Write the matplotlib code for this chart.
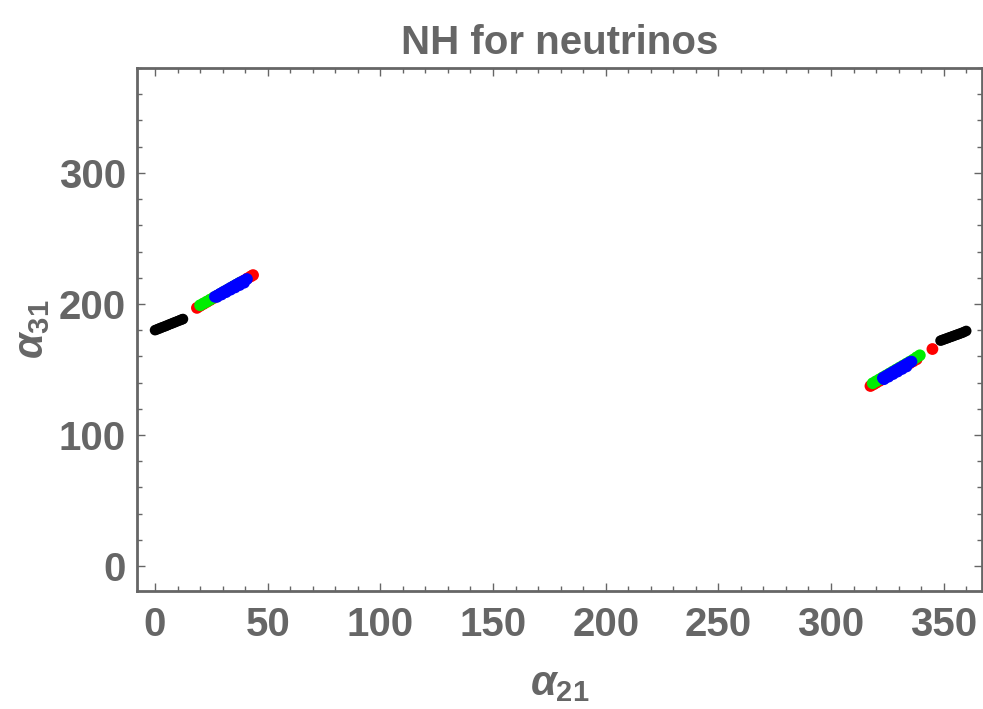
import matplotlib
matplotlib.use("Agg")
import matplotlib.pyplot as plt
from matplotlib.ticker import MultipleLocator

plt.rcParams['font.family'] = ['Liberation Sans', 'DejaVu Sans']
plt.rcParams['mathtext.fontset'] = 'custom'
plt.rcParams['mathtext.it'] = 'Liberation Sans:italic:bold'
plt.rcParams['mathtext.rm'] = 'Liberation Sans:bold'

# Data (alpha21, alpha31) in degrees
black_x = [0.0, 0.8, 1.6, 2.4, 3.2, 4.0, 4.8, 5.6, 6.4, 7.2, 8.0, 8.8, 9.6, 10.4, 11.2, 12.0, 12.4,
           348.6, 349.4, 350.2, 351.0, 351.8, 352.6, 353.4, 354.2, 355.0, 355.8, 356.6, 357.4, 358.2, 359.0, 360.0]
black_y = [180.0, 180.5, 181.1, 181.6, 182.2, 182.7, 183.2, 183.8, 184.4, 184.9, 185.5, 186.0, 186.6, 187.1, 187.7, 188.2, 188.5,
           172.0, 172.5, 173.0, 173.5, 174.0, 174.5, 175.0, 175.5, 176.0, 176.5, 177.0, 177.5, 178.0, 178.6, 179.4]

red_x = [18.6, 20.0, 21.5, 23.0, 24.5, 26.0, 27.5, 29.0, 30.5, 32.0, 33.5, 35.0, 36.5, 38.0, 39.5, 41.0, 42.5, 43.5,
         317.5, 318.8, 320.0, 321.5, 323.0, 324.5, 326.0, 327.5, 329.0, 330.5, 332.0, 333.5, 335.0, 336.5, 338.0, 345.0]
red_y = [197.0, 198.5, 200.0, 201.5, 203.0, 204.5, 205.9, 207.4, 208.9, 210.3, 211.8, 213.3, 214.8, 216.3, 217.8, 219.5, 221.0, 222.0,
         137.4, 138.6, 139.8, 141.3, 142.8, 144.3, 145.8, 147.3, 148.8, 150.3, 151.8, 153.3, 154.8, 156.3, 157.8, 165.6]

green_x = [20.0, 21.5, 23.0, 24.5, 26.0, 27.5, 29.0, 30.5, 32.0, 33.5, 35.0, 36.5, 37.7,
           318.5, 320.0, 321.5, 323.0, 324.5, 326.0, 327.5, 329.0, 330.5, 332.0, 333.5, 335.0, 336.5, 338.0, 339.4]
green_y = [199.0, 200.4, 201.8, 203.3, 204.8, 206.2, 207.7, 209.2, 210.6, 212.1, 213.6, 215.0, 216.2,
           139.5, 141.0, 142.5, 144.0, 145.5, 147.0, 148.5, 150.0, 151.5, 153.0, 154.5, 156.0, 157.5, 159.3, 160.8]

blue_x = [26.6, 27.8, 29.0, 30.2, 31.4, 32.6, 33.8, 35.0, 36.2, 37.4, 38.6, 39.8, 40.8,
          27.5, 29.5, 31.5, 33.5, 35.5, 37.5, 39.5,
          323.0, 324.0, 325.0, 326.0, 327.0, 328.0, 329.0, 330.0, 331.0, 332.0, 333.0, 334.0, 335.0, 335.7,
          323.5, 325.5, 327.5, 329.5, 331.5, 333.5]
blue_y = [205.5, 206.6, 207.8, 209.0, 210.1, 211.3, 212.5, 213.6, 214.8, 215.9, 217.0, 218.0, 219.0,
          205.4, 207.2, 209.0, 210.9, 212.6, 214.4, 216.2,
          143.5, 144.5, 145.5, 146.5, 147.5, 148.5, 149.5, 150.5, 151.5, 152.5, 153.5, 154.5, 155.5, 156.0,
          142.6, 144.5, 146.5, 148.4, 150.4, 152.3]

grey = '#666666'

fig = plt.figure(figsize=(9.83, 7.09), dpi=100)
ax = fig.add_axes([137/983, 1 - 591/709, (982 - 137)/983, (591 - 68)/709])

ms = 72
ax.scatter(black_x, black_y, s=ms * 0.8, color='black', edgecolors='none')
ax.scatter(red_x, red_y, s=ms, color='#ff0000', edgecolors='none')
ax.scatter(green_x, green_y, s=ms, color='#00ee00', edgecolors='none')
ax.scatter(blue_x, blue_y, s=ms, color='#0000ff', edgecolors='none')

ax.set_xlim(-8, 367)
ax.set_ylim(-19, 380)

ax.xaxis.set_major_locator(MultipleLocator(50))
ax.xaxis.set_minor_locator(MultipleLocator(10))
ax.yaxis.set_major_locator(MultipleLocator(100))
ax.yaxis.set_minor_locator(MultipleLocator(20))

ax.tick_params(which='both', direction='in', top=True, right=True, color=grey,
               labelcolor=grey, labelsize=29, width=1.0)
ax.tick_params(which='major', length=6)
ax.tick_params(which='minor', length=3.5)
ax.tick_params(axis='x', pad=11)
ax.tick_params(axis='y', pad=8)
ax.tick_params(top=True, right=True, labeltop=False, labelright=False)

for lab in ax.get_xticklabels() + ax.get_yticklabels():
    lab.set_fontweight('bold')

for sp in ax.spines.values():
    sp.set_color(grey)
    sp.set_linewidth(2)

ax.set_title('NH for neutrinos', fontsize=29, fontweight='bold', color=grey, pad=10)
ax.set_xlabel(r'$\alpha_{21}$', fontsize=30, color=grey, labelpad=14)
ax.set_ylabel(r'$\alpha_{31}$', fontsize=30, color=grey, labelpad=5)

fig.savefig('out.png', dpi=100, facecolor='white')
